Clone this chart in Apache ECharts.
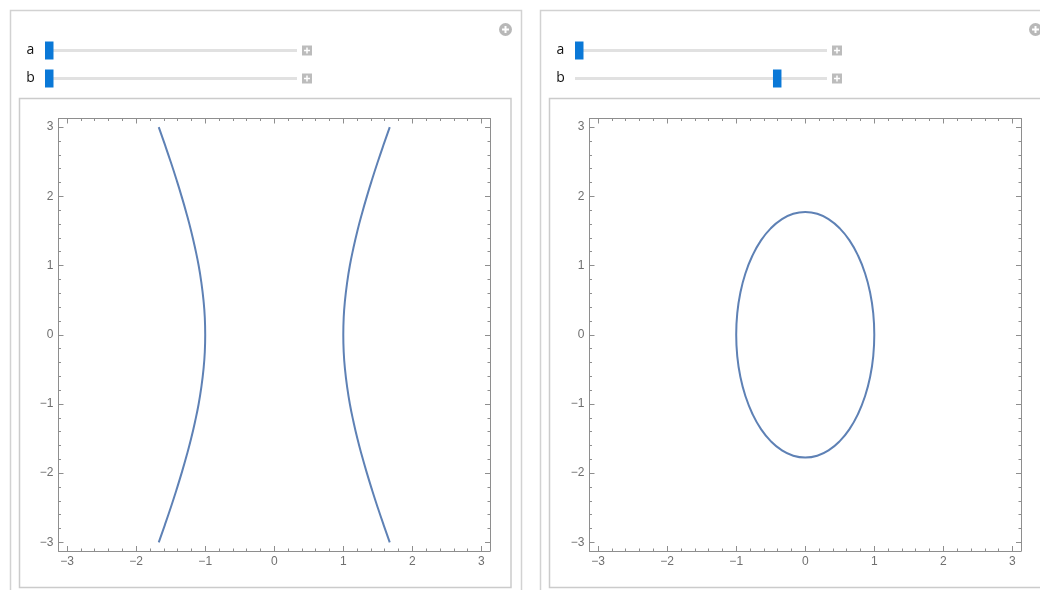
<!DOCTYPE html>
<html>
<head>
<meta charset="utf-8">
<script src="https://cdn.jsdelivr.net/npm/echarts@6/dist/echarts.min.js"></script>
<style>
html,body{margin:0;padding:0;background:#fff;}
#chart{width:1040px;height:590px;}
</style>
</head>
<body>
<div id="chart"></div>
<script>
// ---- data ----
// major tick labels (both axes, both panels)
const majorTicks = [-3, -2, -1, 0, 1, 2, 3];
const minorTicks = [-2.8, -2.6, -2.4, -2.2, -1.8, -1.6, -1.4, -1.2, -0.8, -0.6, -0.4, -0.2,
                    0.2, 0.4, 0.6, 0.8, 1.2, 1.4, 1.6, 1.8, 2.2, 2.4, 2.6, 2.8];
// left panel: right branch of the curve (left branch is its mirror image)
const hyperY = [-3, -2.75, -2.5, -2.25, -2, -1.75, -1.5, -1.25, -1, -0.75, -0.5, -0.25, 0,
                0.25, 0.5, 0.75, 1, 1.25, 1.5, 1.75, 2, 2.25, 2.5, 2.75, 3];
const hyperX = [1.673, 1.585, 1.5, 1.419, 1.342, 1.270, 1.204, 1.146, 1.095, 1.055, 1.025, 1.006, 1.0,
                1.006, 1.025, 1.055, 1.095, 1.146, 1.204, 1.270, 1.342, 1.419, 1.5, 1.585, 1.673];
// right panel: closed oval, first quadrant points (other quadrants mirrored)
const ovalX = [1.0, 0.985, 0.940, 0.866, 0.766, 0.643, 0.5, 0.342, 0.174, 0.0];
const ovalY = [0.0, 0.308, 0.607, 0.888, 1.141, 1.360, 1.537, 1.668, 1.748, 1.775];
// slider positions (fraction of track)
const sliderA = [0.0, 0.0];
const sliderB = [0.0, 0.813];

// ---- build series data ----
const rightBranch = hyperX.map((x, i) => [x, hyperY[i]]);
const leftBranch = hyperX.map((x, i) => [-x, hyperY[i]]);
const oval = [];
for (let i = 0; i < ovalX.length; i++) oval.push([ovalX[i], ovalY[i]]);
for (let i = ovalX.length - 2; i >= 0; i--) oval.push([-ovalX[i], ovalY[i]]);
for (let i = 1; i < ovalX.length; i++) oval.push([-ovalX[i], -ovalY[i]]);
for (let i = ovalX.length - 2; i >= 0; i--) oval.push([ovalX[i], -ovalY[i]]);

const frameColor = '#8e8e8e';
const labelColor = '#6f6f6f';
const lineColor = '#5e81b5';
const AX_MIN = -3.125, AX_MAX = 3.125;
const fmt = v => v < 0 ? '\u2212' + (-v) : String(v);

function axisSet(g, dim) {
  const isX = dim === 'x';
  const sides = isX ? ['bottom', 'top'] : ['left', 'right'];
  const out = [];
  sides.forEach((pos, si) => {
    // major
    out.push({
      gridIndex: g, type: 'value', min: AX_MIN, max: AX_MAX, position: pos,
      axisLine: {show: true, onZero: false, lineStyle: {color: frameColor, width: 1}},
      axisTick: {show: true, inside: true, length: 5, customValues: majorTicks,
                 lineStyle: {color: frameColor, width: 1}},
      axisLabel: {show: si === 0, customValues: majorTicks, formatter: fmt,
                  color: labelColor, fontSize: 12, fontFamily: 'Liberation Sans',
                  margin: isX ? 5 : 5},
      splitLine: {show: false}
    });
    // minor
    out.push({
      gridIndex: g, type: 'value', min: AX_MIN, max: AX_MAX, position: pos,
      axisLine: {show: false, onZero: false},
      axisTick: {show: true, inside: true, length: 2.5, customValues: minorTicks,
                 lineStyle: {color: frameColor, width: 1}},
      axisLabel: {show: false},
      splitLine: {show: false}
    });
  });
  return out;
}

const grids = [
  {left: 58.5, top: 118.5, width: 431.5, height: 432.5},
  {left: 589.5, top: 118.5, width: 431.5, height: 432.5}
];
const xAxes = axisSet(0, 'x').concat(axisSet(1, 'x'));
const yAxes = axisSet(0, 'y').concat(axisSet(1, 'y'));

function lineSeries(data, g) {
  return {
    type: 'line', data: data, xAxisIndex: g * 4, yAxisIndex: g * 4,
    showSymbol: false, smooth: true, clip: false, silent: true,
    lineStyle: {color: lineColor, width: 2}
  };
}

// ---- UI graphics (panels, sliders) ----
const graphics = [];
const panelStroke = '#d2d2d2';
function panel(x0) {
  graphics.push({type: 'rect', shape: {x: x0 + 0.5, y: 10.5, width: 511, height: 600},
                 style: {fill: 'none', stroke: panelStroke, lineWidth: 1.5}, z: 1});
  graphics.push({type: 'rect', shape: {x: x0 + 9.5, y: 98.5, width: 491.5, height: 489},
                 style: {fill: 'none', stroke: '#cbcbcb', lineWidth: 1.5}, z: 1});
  // circle plus icon
  const cx = x0 + 495.5, cy = 29.5;
  graphics.push({type: 'circle', shape: {cx: cx, cy: cy, r: 6.5}, style: {fill: '#b8b8b8'}, z: 2});
  graphics.push({type: 'rect', shape: {x: cx - 3.5, y: cy - 1, width: 7, height: 2}, style: {fill: '#fff'}, z: 3});
  graphics.push({type: 'rect', shape: {x: cx - 1, y: cy - 3.5, width: 2, height: 7}, style: {fill: '#fff'}, z: 3});
}
function slider(x0, cy, label, frac) {
  graphics.push({type: 'text', style: {text: label, x: x0 + 20.5, y: cy, fill: '#111',
                 font: '14px "Open Sans"', align: 'center', verticalAlign: 'middle'}, z: 2});
  const tx0 = x0 + 35, tx1 = x0 + 287;
  graphics.push({type: 'rect', shape: {x: tx0, y: cy - 1.5, width: tx1 - tx0, height: 3},
                 style: {fill: '#e1e1e1'}, z: 2});
  const thumbW = 8.5;
  const tx = tx0 + frac * (tx1 - tx0 - thumbW);
  graphics.push({type: 'rect', shape: {x: tx, y: cy - 9, width: thumbW, height: 18},
                 style: {fill: '#0a78d7'}, z: 3});
  const bx = x0 + 292, by = cy - 5;
  graphics.push({type: 'rect', shape: {x: bx, y: by, width: 10, height: 10}, style: {fill: '#bcbcbc'}, z: 2});
  graphics.push({type: 'rect', shape: {x: bx + 2, y: by + 4.25, width: 6, height: 1.5}, style: {fill: '#fff'}, z: 3});
  graphics.push({type: 'rect', shape: {x: bx + 4.25, y: by + 2, width: 1.5, height: 6}, style: {fill: '#fff'}, z: 3});
}
panel(10);
panel(540);
slider(10, 50.5, 'a', sliderA[0]);
slider(10, 78.5, 'b', sliderB[0]);
slider(540, 50.5, 'a', sliderA[1]);
slider(540, 78.5, 'b', sliderB[1]);

const chart = echarts.init(document.getElementById('chart'), null, {renderer: 'canvas'});
chart.setOption({
  animation: false,
  backgroundColor: '#fff',
  grid: grids,
  xAxis: xAxes,
  yAxis: yAxes,
  series: [lineSeries(leftBranch, 0), lineSeries(rightBranch, 0), lineSeries(oval, 1)],
  graphic: graphics
});
</script>
</body>
</html>
